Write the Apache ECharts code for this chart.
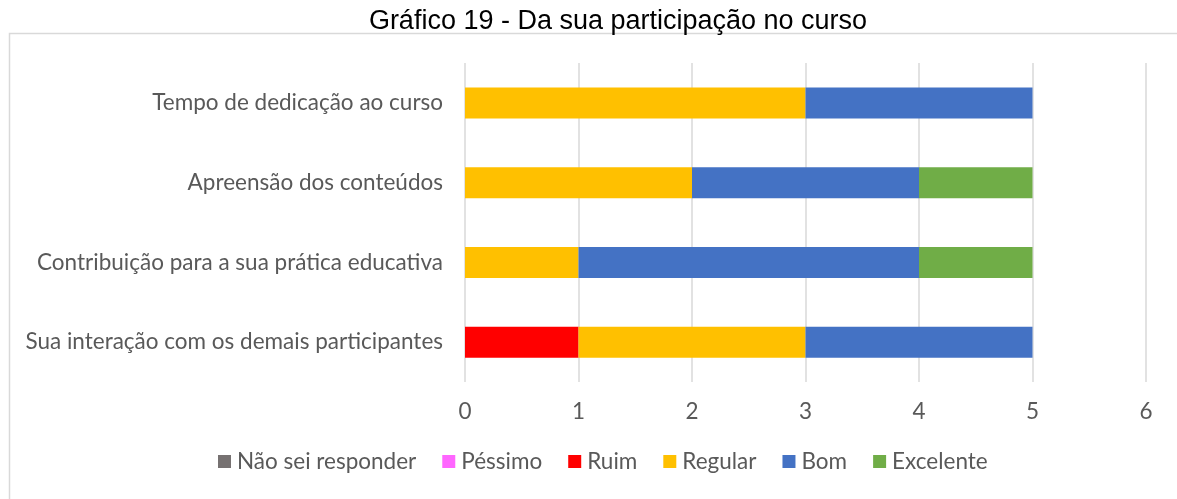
<!DOCTYPE html>
<html><head><meta charset="utf-8">
<script src="https://cdn.jsdelivr.net/npm/echarts@6/dist/echarts.min.js"></script>
<style>html,body{margin:0;padding:0;background:#fff}#c{width:1177px;height:499px}</style>
</head><body><div id="c"></div>
<script>
const categories = ['Tempo de dedicação ao curso','Apreensão dos conteúdos','Contribuição para a sua prática educativa','Sua interação com os demais participantes'];
const seriesNames = ['Não sei responder','Péssimo','Ruim','Regular','Bom','Excelente'];
const naoSei   = [0,0,0,0];
const pessimo  = [0,0,0,0];
const ruim     = [0,0,0,1];
const regular  = [3,2,1,2];
const bom      = [2,2,3,2];
const excelente= [0,1,1,0];
const xTicks = [0,1,2,3,4,5,6];
const colors = ['#767171','#FF66FF','#FF0000','#FFC000','#4472C4','#70AD47'];
const values = [naoSei,pessimo,ruim,regular,bom,excelente];
const labelFont = 'Lato, "Open Sans", sans-serif';
const chart = echarts.init(document.getElementById('c'));
chart.setOption({
  animation:false,
  title:{text:'Gráfico 19 - Da sua participação no curso',left:613,textAlign:'center',top:3,
    textStyle:{fontFamily:'"Liberation Sans", Arial, sans-serif',fontWeight:'normal',fontSize:27,color:'#000'}},
  graphic:[{type:'rect',shape:{x:9.5,y:33.5,width:1200,height:500},style:{fill:'none',stroke:'#d9d9d9',lineWidth:1.5},silent:true,z:-1}],
  legend:{data:seriesNames,bottom:21,left:213,itemWidth:13,itemHeight:13,itemGap:26,icon:'rect',
    textStyle:{fontFamily:labelFont,fontSize:22.5,color:'#595959',padding:[0,0,0,1]}},
  grid:{left:465,right:31,top:63,bottom:117},
  xAxis:{type:'value',min:0,max:6,interval:1,
    axisLine:{show:false},axisTick:{show:false},
    splitLine:{lineStyle:{color:'#d9d9d9',width:1.5}},
    axisLabel:{margin:18,fontFamily:labelFont,fontSize:22.5,color:'#595959',formatter:v=>String(xTicks[v])}},
  yAxis:{type:'category',data:categories,inverse:true,
    axisLine:{show:false},axisTick:{show:false},
    axisLabel:{margin:22,fontFamily:labelFont,fontSize:22.5,color:'#595959'}},
  series:seriesNames.map((n,i)=>({name:n,type:'bar',stack:'t',data:values[i],barWidth:31,
    itemStyle:{color:colors[i]}}))
});
</script></body></html>
